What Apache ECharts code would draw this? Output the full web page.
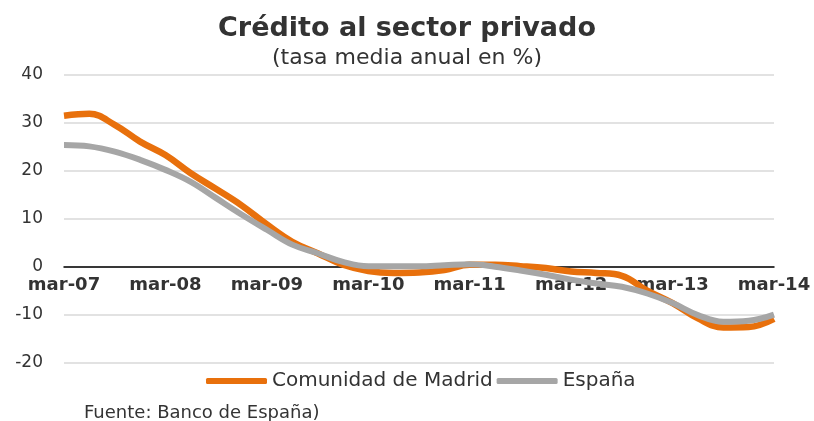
<!DOCTYPE html>
<html>
<head>
<meta charset="utf-8">
<script src="https://cdn.jsdelivr.net/npm/echarts@6/dist/echarts.min.js"></script>
<style>
  html, body { margin: 0; padding: 0; background: #fff; }
  #chart { width: 814px; height: 421px; }
</style>
</head>
<body>
<div id="chart"></div>
<script>
// trimestres mar-07 .. mar-14
var quarters = [
  'mar-07','jun-07','sep-07','dic-07',
  'mar-08','jun-08','sep-08','dic-08',
  'mar-09','jun-09','sep-09','dic-09',
  'mar-10','jun-10','sep-10','dic-10',
  'mar-11','jun-11','sep-11','dic-11',
  'mar-12','jun-12','sep-12','dic-12',
  'mar-13','jun-13','sep-13','dic-13',
  'mar-14'
];
var madrid = [
  31.5, 31.9, 29.6, 26.1,
  23.3, 19.5, 16.2, 12.8,
  8.8, 5.2, 2.8, 0.4,
  -0.9, -1.3, -1.2, -0.7,
  0.4, 0.4, 0.1, -0.3,
  -1.0, -1.3, -1.9, -5.0,
  -7.6, -10.8, -12.7, -12.6,
  -10.9
];
var espana = [
  25.4, 25.1, 24.0, 22.3,
  20.2, 17.7, 14.3, 10.9,
  7.7, 4.6, 2.8, 1.0,
  0.1, 0.1, 0.1, 0.3,
  0.5, 0.0, -0.8, -1.7,
  -2.7, -3.5, -4.2, -5.6,
  -7.6, -10.1, -11.5, -11.3,
  -10.0
];
var yMin = -20, yMax = 40, yStep = 10;

var font = '"DejaVu Sans", sans-serif';
var gridTop = 75, gridBottom = 58.5, chartH = 421;
var plotH = chartH - gridTop - gridBottom;
// sube el eje X hasta la línea del cero
var zeroOffset = -plotH * (0 - yMin) / (yMax - yMin);

var chart = echarts.init(document.getElementById('chart'));
chart.setOption({
  backgroundColor: '#fff',
  animation: false,
  title: [{
    text: 'Crédito al sector privado',
    left: 'center',
    top: 10,
    textStyle: { fontFamily: font, fontSize: 27, fontWeight: 'bold', color: '#333' }
  }, {
    text: '(tasa media anual en %)',
    left: 'center',
    top: 42,
    textStyle: { fontFamily: font, fontSize: 22, fontWeight: 'normal', color: '#333' }
  }, {
    text: 'Fuente: Banco de España)',
    left: 79,
    top: 399,
    textStyle: { fontFamily: font, fontSize: 18, fontWeight: 'normal', color: '#333' }
  }],
  legend: {
    top: 366,
    left: 201,
    itemWidth: 61,
    itemHeight: 6,
    itemGap: 4,
    icon: 'roundRect',
    textStyle: { fontFamily: font, fontSize: 20, color: '#333' },
    data: ['Comunidad de Madrid', 'España']
  },
  grid: { left: 64, right: 40, top: gridTop, bottom: gridBottom },
  xAxis: {
    type: 'category',
    data: quarters,
    boundaryGap: false,
    offset: zeroOffset,
    axisLine: { onZero: false, lineStyle: { color: '#000', width: 1.5 } },
    axisTick: { show: false },
    axisLabel: {
      interval: 3,
      margin: 10,
      fontFamily: font,
      fontSize: 18,
      fontWeight: 'bold',
      color: '#333'
    },
    splitLine: { show: false }
  },
  yAxis: {
    type: 'value',
    min: yMin,
    max: yMax,
    interval: yStep,
    axisLine: { show: false },
    axisTick: { show: false },
    axisLabel: { fontFamily: font, fontSize: 17, color: '#333', margin: 21 },
    splitLine: { lineStyle: { color: '#d9d9d9', width: 1.5 } }
  },
  series: [{
    name: 'Comunidad de Madrid',
    type: 'line',
    data: madrid,
    smooth: 0.4,
    showSymbol: false,
    color: '#e8700c',
    lineStyle: { width: 6.5, color: '#e8700c' }
  }, {
    name: 'España',
    type: 'line',
    data: espana,
    smooth: 0.4,
    showSymbol: false,
    color: '#a6a6a6',
    lineStyle: { width: 6, color: '#a6a6a6' }
  }]
});
</script>
</body>
</html>
